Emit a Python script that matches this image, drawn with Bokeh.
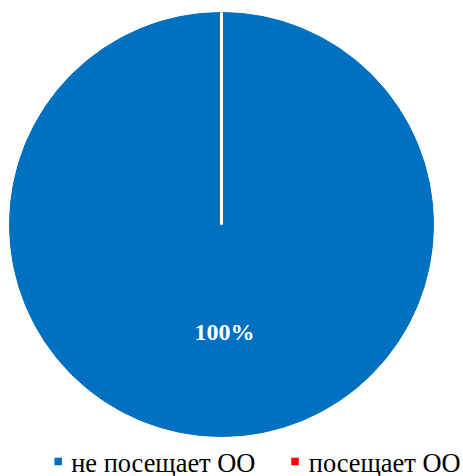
import math
from bokeh.plotting import figure
from bokeh.models import ColumnDataSource, Range1d
from bokeh.core.properties import value
from bokeh.embed import file_html
from bokeh.resources import INLINE

categories = ["не посещает ОО", "посещает ОО"]
values = [100, 0]
colors = ["#0070C0", "#FF0000"]

W, H = 463, 476
p = figure(width=W, height=H, output_backend="svg", toolbar_location=None,
           x_range=Range1d(0, W), y_range=Range1d(0, H), min_border=0)
p.axis.visible = False
p.grid.visible = False
p.outline_line_color = None
p.background_fill_color = "white"

cx, cy, r = 221, H - 224, 212
total = sum(values)
starts, ends = [], []
a = math.pi / 2
for v in values:
    starts.append(a)
    a = a - 2 * math.pi * v / total
    ends.append(a)

# slices split into pieces of at most half a turn (svg arcs of a full turn vanish)
ps, pe, pc = [], [], []
for s, e, c in zip(starts, ends, colors):
    span = s - e
    if span <= 0:
        continue
    n = max(1, math.ceil(span / math.pi))
    for k in range(n):
        ps.append(s - span * k / n)
        pe.append(s - span * (k + 1) / n)
        pc.append(c)
src = ColumnDataSource(dict(start=ps, end=pe, color=pc))
p.wedge(x=cx, y=cy, radius=r, start_angle="start", end_angle="end",
        direction="clock", fill_color="color", line_color="color", line_width=1,
        source=src)

# white slice borders
bx1 = [cx + r * math.cos(s) for s in starts]
by1 = [cy + r * math.sin(s) for s in starts]
p.segment(x0=[cx] * len(starts), y0=[cy] * len(starts), x1=bx1, y1=by1,
          line_color="white", line_width=3)

# data label
lx, ly, lt = [], [], []
for v, s, e in zip(values, starts, ends):
    if v > 0:
        m = (s + e) / 2
        lx.append(cx + 3 + 0.5 * r * math.cos(m))
        ly.append(cy + 0.5 * r * math.sin(m) - 1)
        lt.append(f"{round(100 * v / total)}%")
p.text(x=lx, y=ly, text=lt, text_color="white", text_font=value("Liberation Serif"),
       text_font_style="bold", text_font_size="24px", text_align="center",
       text_baseline="middle")

# legend
sq_x = [57.7, 294.5]
tx = [70.7, 308.3]
p.scatter(x=sq_x, y=[H - 461] * 2, marker="square", size=7.5, fill_color=colors, line_color=None)
p.text(x=tx, y=[H - 462] * 2, text=categories, text_color="black",
       text_font=value("Liberation Serif"), text_font_size="26.4px",
       text_align="left", text_baseline="middle")

open("out.html", "w").write(file_html(p, INLINE))
